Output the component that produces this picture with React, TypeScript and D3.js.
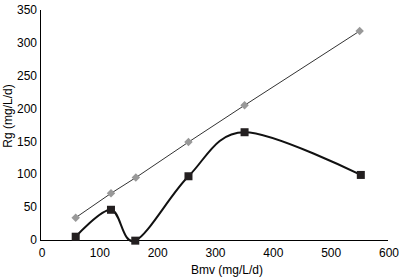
import React from "react";
import * as d3 from "d3";

const bmvRef = [60, 121, 164, 255, 352, 551];
const rgRef = [34, 71, 95, 149, 205, 318];
const bmvObs = [60, 121, 163, 255, 352, 553];
const rgObs = [5, 46, -1, 97, 164, 99];
const xTicks = [0, 100, 200, 300, 400, 500, 600];
const yTicks = [0, 50, 100, 150, 200, 250, 300, 350];

const W = 401, H = 278;
const x = d3.scaleLinear().domain([0, 600]).range([41, 388]);
const y = d3.scaleLinear().domain([0, 350]).range([240, 10]);

export default function App() {
  const refPts: [number, number][] = bmvRef.map((b, i) => [x(b), y(rgRef[i])]);
  const obsPts: [number, number][] = bmvObs.map((b, i) => [x(b), y(rgObs[i])]);
  const straight = d3.line().curve(d3.curveLinear)(refPts) || "";
  const smooth = d3.line().curve(d3.curveCardinal.tension(0))(obsPts) || "";
  const font = "'Liberation Sans', Arial, sans-serif";
  return (
    <svg width={W} height={H} style={{ position: "absolute", left: 0, top: 0, background: "#fff" }}>
      <line x1={x(0) - 0.5} x2={x(0) - 0.5} y1={y(350)} y2={y(0)} stroke="#000" strokeWidth={1} />
      <line x1={x(0) - 1} x2={x(600)} y1={y(0) + 0.5} y2={y(0) + 0.5} stroke="#000" strokeWidth={1} />
      {yTicks.map((t) => (
        <text key={"y" + t} x={37} y={y(t)} dy="0.35em" textAnchor="end" fontFamily={font} fontSize={12} fill="#000">
          {t}
        </text>
      ))}
      {xTicks.map((t) => (
        <text key={"x" + t} x={x(t) + 1} y={256.5} textAnchor="middle" fontFamily={font} fontSize={12} fill="#000">
          {t}
        </text>
      ))}
      <text x={227} y={274} textAnchor="middle" fontFamily={font} fontSize={12} fill="#000">Bmv (mg/L/d)</text>
      <text transform={`translate(12,116) rotate(-90)`} textAnchor="middle" fontFamily={font} fontSize={12} fill="#000">Rg (mg/L/d)</text>
      <path d={straight} fill="none" stroke="#333" strokeWidth={1} />
      <path d={smooth} fill="none" stroke="#111" strokeWidth={2} />
      {refPts.map(([px, py], i) => (
        <rect key={"d" + i} x={px - 3} y={py - 3} width={6} height={6} fill="#999" transform={`rotate(45 ${px} ${py})`} />
      ))}
      {obsPts.map(([px, py], i) => (
        <rect key={"s" + i} x={px - 4} y={py - 4} width={8} height={8} fill="#231f20" />
      ))}
    </svg>
  );
}
